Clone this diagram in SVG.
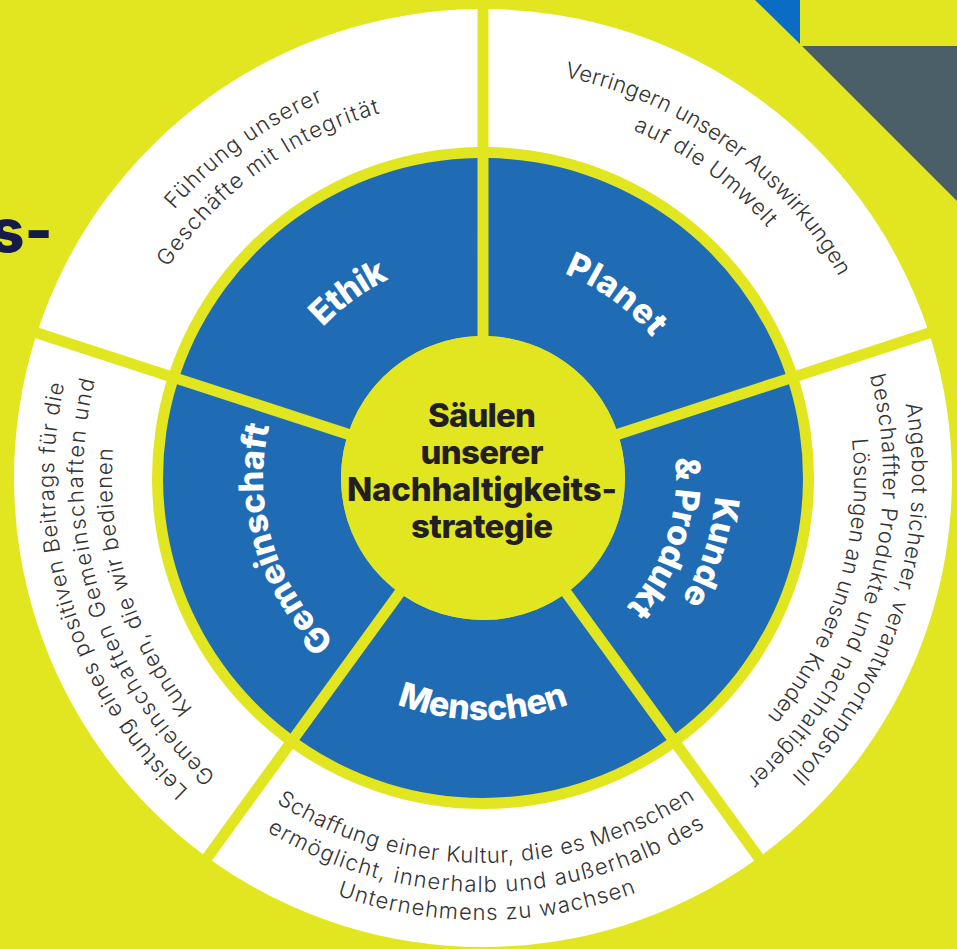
<svg xmlns="http://www.w3.org/2000/svg" xmlns:xlink="http://www.w3.org/1999/xlink" width="957" height="949" viewBox="0 0 957 949">
  <style>
    .bg { fill: #e1e621; }
    .band-outer { fill: #ffffff; }
    .band-inner { fill: #1f6bb4; }
    .pillar { font-family: Inter, "Liberation Sans", sans-serif; font-weight: 800; font-size: 34px; fill: #ffffff; text-anchor: middle; }
    .desc { font-family: Inter, "Liberation Sans", sans-serif; font-weight: 300; font-size: 22px; fill: #333333; text-anchor: middle; }
    .core-text { font-family: Inter, "Liberation Sans", sans-serif; font-weight: 800; font-size: 33px; fill: #231f20; text-anchor: middle; }
    .heading { font-family: Inter, "Liberation Sans", sans-serif; font-weight: 800; font-size: 60px; fill: #151a4a; }
  </style>
  <defs>
    <!-- one 72 degree wedge (top-right), rotated for the other pillars; gaps are 11px wide -->
    <path id="wedge-outer" d="M 488.50 9.03 A 469 469 0 0 1 927.31 327.85 L 796.06 370.50 A 331 331 0 0 0 488.50 147.05 Z"/>
    <path id="wedge-inner" d="M 488.50 158.05 A 320 320 0 0 1 785.59 373.90 L 616.25 428.92 A 142 142 0 0 0 488.50 336.11 Z"/>
    <!-- clockwise arcs through the top (text tops point outward) -->
    <path id="cw409" d="M 74 478 A 409 409 0 0 1 892 478"/>
    <path id="cw379" d="M 104 478 A 379 379 0 0 1 862 478"/>
    <path id="cw429" d="M 54 478 A 429 429 0 0 1 912 478"/>
    <path id="cw400" d="M 83 478 A 400 400 0 0 1 883 478"/>
    <path id="cw371" d="M 112 478 A 371 371 0 0 1 854 478"/>
    <path id="cw220" d="M 263 478 A 220 220 0 0 1 703 478"/>
    <path id="cw233" d="M 250 478 A 233 233 0 0 1 716 478"/>
    <path id="cw193" d="M 290 478 A 193 193 0 0 1 676 478"/>
    <!-- counter-clockwise arcs through the bottom (text tops point inward) -->
    <path id="ccw385" d="M 98 478 A 385 385 0 0 0 868 478"/>
    <path id="ccw414" d="M 69 478 A 414 414 0 0 0 897 478"/>
    <path id="ccw442" d="M 41 478 A 442 442 0 0 0 925 478"/>
    <path id="ccw242" d="M 241 478 A 242 242 0 0 0 725 478"/>
  </defs>

  <rect class="bg" x="0" y="0" width="957" height="949"/>

  <g id="corner">
    <polygon points="755,0 800,0 800,44" fill="#0a6cc4"/>
    <polygon points="802,46 957,46 957,201" fill="#4b5f69"/>
    <text class="heading" x="-10" y="252">s-</text>
  </g>

  <g id="pillar-planet">
    <use href="#wedge-outer" class="band-outer"/>
    <use href="#wedge-inner" class="band-inner"/>
    <text class="pillar" transform="rotate(36 483 478)"><textPath href="#cw220" startOffset="50%" textLength="110">Planet</textPath></text>
    <text class="desc" transform="rotate(36 483 478)"><textPath href="#cw409" startOffset="50%" textLength="350">Verringern unserer Auswirkungen</textPath></text>
    <text class="desc" transform="rotate(36 483 478)"><textPath href="#cw379" startOffset="50%" textLength="168">auf die Umwelt</textPath></text>
  </g>

  <g id="pillar-kunde-produkt">
    <use href="#wedge-outer" class="band-outer" transform="rotate(72 483 478)"/>
    <use href="#wedge-inner" class="band-inner" transform="rotate(72 483 478)"/>
    <text class="pillar" transform="rotate(108 483 478)"><textPath href="#cw233" startOffset="50%" textLength="110">Kunde</textPath></text>
    <text class="pillar" transform="rotate(108 483 478)"><textPath href="#cw193" startOffset="50%" textLength="162">&amp; Produkt</textPath></text>
    <text class="desc" transform="rotate(107 483 478)"><textPath href="#cw429" startOffset="50%" textLength="404">Angebot sicherer, verantwortungsvoll</textPath></text>
    <text class="desc" transform="rotate(107 483 478)"><textPath href="#cw400" startOffset="50%" textLength="444">beschaffter Produkte und nachhaltigerer</textPath></text>
    <text class="desc" transform="rotate(107 483 478)"><textPath href="#cw371" startOffset="50%" textLength="298">Lösungen an unsere Kunden</textPath></text>
  </g>

  <g id="pillar-menschen">
    <use href="#wedge-outer" class="band-outer" transform="rotate(144 483 478)"/>
    <use href="#wedge-inner" class="band-inner" transform="rotate(144 483 478)"/>
    <text class="pillar"><textPath href="#ccw242" startOffset="50%" textLength="176">Menschen</textPath></text>
    <text class="desc" transform="rotate(-0.5 483 478)"><textPath href="#ccw385" startOffset="50%" textLength="443">Schaffung einer Kultur, die es Menschen</textPath></text>
    <text class="desc" transform="rotate(-0.5 483 478)"><textPath href="#ccw414" startOffset="50%" textLength="462">ermöglicht, innerhalb und außerhalb des</textPath></text>
    <text class="desc" transform="rotate(-0.5 483 478)"><textPath href="#ccw442" startOffset="50%" textLength="305">Unternehmens zu wachsen</textPath></text>
  </g>

  <g id="pillar-gemeinschaft">
    <use href="#wedge-outer" class="band-outer" transform="rotate(216 483 478)"/>
    <use href="#wedge-inner" class="band-inner" transform="rotate(216 483 478)"/>
    <text class="pillar" transform="rotate(-107 483 478)"><textPath href="#cw220" startOffset="50%" textLength="236">Gemeinschaft</textPath></text>
    <text class="desc" transform="rotate(-107 483 478)"><textPath href="#cw429" startOffset="50%" textLength="444">Leistung eines positiven Beitrags für die</textPath></text>
    <text class="desc" transform="rotate(-107 483 478)"><textPath href="#cw400" startOffset="50%" textLength="435">Gemeinschaften Gemeinschaften und</textPath></text>
    <text class="desc" transform="rotate(-107 483 478)"><textPath href="#cw371" startOffset="50%" textLength="279">Kunden, die wir bedienen</textPath></text>
  </g>

  <g id="pillar-ethik">
    <use href="#wedge-outer" class="band-outer" transform="rotate(288 483 478)"/>
    <use href="#wedge-inner" class="band-inner" transform="rotate(288 483 478)"/>
    <text class="pillar" transform="rotate(-36 483 478)"><textPath href="#cw220" startOffset="50%" textLength="82">Ethik</textPath></text>
    <text class="desc" transform="rotate(-36 483 478)"><textPath href="#cw409" startOffset="50%" textLength="186">Führung unserer</textPath></text>
    <text class="desc" transform="rotate(-36 483 478)"><textPath href="#cw379" startOffset="50%" textLength="268">Geschäfte mit Integrität</textPath></text>
  </g>

  <g id="core">
    <circle cx="483" cy="478" r="142" class="bg"/>
    <text class="core-text" x="482" y="427" textLength="108">Säulen</text>
    <text class="core-text" x="482" y="464" textLength="123">unserer</text>
    <text class="core-text" x="482" y="501" textLength="270">Nachhaltigkeits-</text>
    <text class="core-text" x="482" y="538" textLength="142">strategie</text>
  </g>
</svg>
